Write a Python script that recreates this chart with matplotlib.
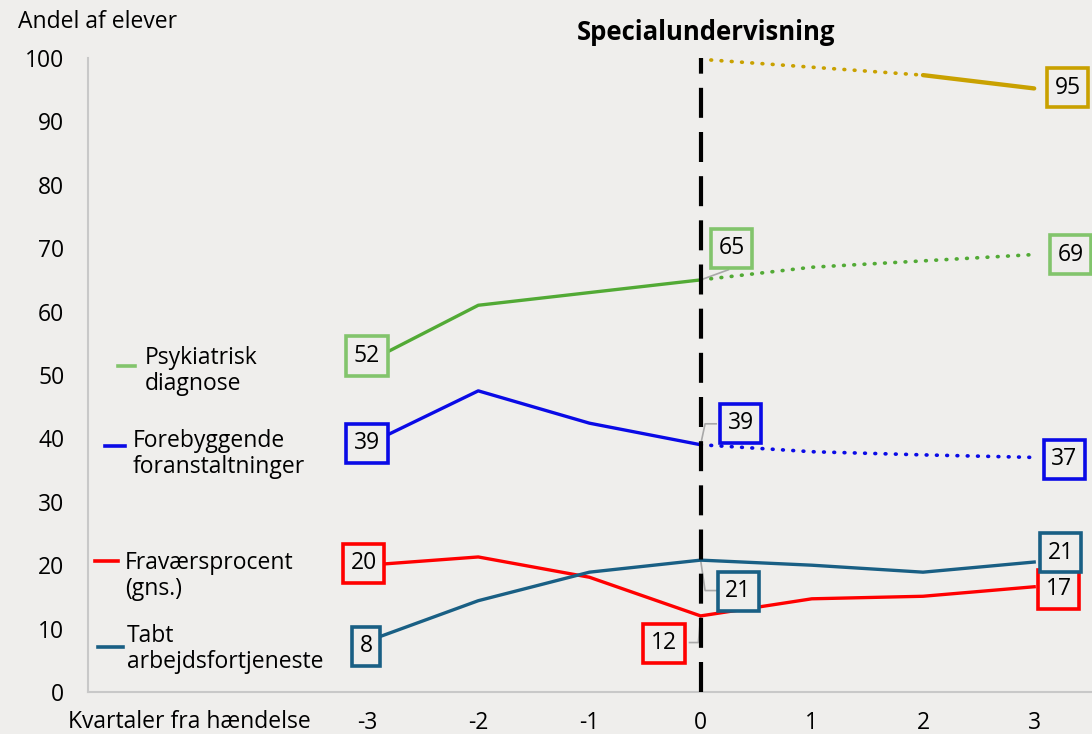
import matplotlib
matplotlib.use("Agg")
import matplotlib.pyplot as plt
from matplotlib.lines import Line2D

plt.rcParams['font.family'] = ['Open Sans', 'DejaVu Sans']

quarters = [-3, -2, -1, 0, 1, 2, 3]
psyk = [52, 61, 63, 65, 67, 68, 69]
forebyg = [39, 47.5, 42.4, 39, 37.9, 37.4, 37]
fravaer = [20, 21.3, 18.1, 12, 14.7, 15.1, 16.6]
tabt = [8, 14.4, 18.9, 20.8, 20.0, 18.9, 20.5]
gul_x = [0, 2, 3]
gul = [99.8, 97.3, 95.2]

c_green, c_green_box = '#52aa35', '#82c46c'
c_blue = '#0a0ae6'
c_red = '#ff0000'
c_teal = '#195f84'
c_yellow = '#c9a100'
bg = '#efeeec'
FS = 16.5

fig = plt.figure(figsize=(10.92, 7.34), dpi=100, facecolor=bg)
ax = fig.add_axes([88/1092, 42/734, 1 - 88/1092, 634/734], facecolor=bg)
ax.set_xlim(-5.51, 3.52)
ax.set_ylim(0, 100)
for s in ['top', 'right']:
    ax.spines[s].set_visible(False)
for s in ['left', 'bottom']:
    ax.spines[s].set_color('#c8c8c8')
    ax.spines[s].set_linewidth(1.5)
ax.set_xticks(quarters)
ax.set_xticklabels([str(q) for q in quarters])
ax.set_yticks(range(0, 101, 10))
ax.tick_params(length=0, labelsize=FS)
ax.tick_params(axis='y', pad=17)
ax.tick_params(axis='x', pad=14)

lw = 2.4
dot = (0, (0.2, 2.6))

def split(xs, ys):
    pre = [(x, y) for x, y in zip(xs, ys) if x <= 0]
    post = [(x, y) for x, y in zip(xs, ys) if x >= 0]
    return list(zip(*pre)), list(zip(*post))

for ys, col in [(psyk, c_green), (forebyg, c_blue)]:
    (px, py), (qx, qy) = split(quarters, ys)
    ax.plot(px, py, color=col, lw=lw, solid_capstyle='butt', zorder=3)
    ax.plot(qx, qy, color=col, lw=lw*1.1, linestyle=dot, dash_capstyle='round', zorder=3)
for ys, col in [(fravaer, c_red), (tabt, c_teal)]:
    ax.plot(quarters, ys, color=col, lw=lw, zorder=3)
ax.plot(gul_x[:2], gul[:2], color=c_yellow, lw=lw*1.1, linestyle=dot, dash_capstyle='round', zorder=3)
ax.plot(gul_x[1:], gul[1:], color=c_yellow, lw=lw*1.3, solid_capstyle='round', zorder=3)

ax.plot([0, 0], [0, 100], color='black', lw=3, linestyle=(0, (7.2, 3.4)), zorder=4)

lead = '#a8a8a8'
ax.plot([0, 0.25], [65, 66.6], color=lead, lw=1.2, zorder=2)
ax.plot([0, 0.04, 0.14], [39, 42.3, 42.3], color=lead, lw=1.2, zorder=2)
ax.plot([0, 0.04, 0.14], [20.8, 16, 16], color=lead, lw=1.2, zorder=2)
ax.plot([0, -0.02, -0.1], [12, 7.8, 7.8], color=lead, lw=1.2, zorder=2)

def box(x, y, txt, col):
    ax.text(x, y, txt, ha='center', va='center', fontsize=FS, color='black', zorder=6,
            bbox=dict(boxstyle='square,pad=0.33', fc=bg, ec=col, lw=2.6))

box(-3.0, 53.0, '52', c_green_box)
box(0.28, 70.0, '65', c_green_box)
box(3.33, 69.0, '69', c_green_box)
box(-3.0, 39.2, '39', c_blue)
box(0.36, 42.4, '39', c_blue)
box(3.27, 36.7, '37', c_blue)
box(-3.03, 20.3, '20', c_red)
box(-0.33, 7.7, '12', c_red)
box(3.22, 16.2, '17', c_red)
box(-3.01, 7.2, '8', c_teal)
box(0.34, 15.9, '21', c_teal)
box(3.24, 22.0, '21', c_teal)
box(3.30, 95.3, '95', c_yellow)

def fx(px):
    return px / 1092
def fy(py):
    return 1 - py / 734

leg = [
    (118, 135, 366, 145, 'Psykiatrisk\ndiagnose', c_green_box, 371),
    (105, 125, 446, 133, 'Forebyggende\nforanstaltninger', c_blue, 454),
    (95, 118, 561, 125, 'Fraværsprocent\n(gns.)', c_red, 576),
    (98, 123, 647, 127, 'Tabt\narbejdsfortjeneste', c_teal, 649),
]
for x0, x1, ly, tx, txt, col, ty in leg:
    fig.add_artist(Line2D([fx(x0), fx(x1)], [fy(ly), fy(ly)], color=col, lw=2.6))
    fig.text(fx(tx), fy(ty), txt, ha='left', va='center', fontsize=FS, linespacing=1.15)

fig.text(fx(18), fy(22), 'Andel af elever', ha='left', va='center', fontsize=FS)
fig.text(fx(68), fy(722), 'Kvartaler fra hændelse', ha='left', va='center', fontsize=FS)
fig.text(fx(706), fy(32), 'Specialundervisning', ha='center', va='center', fontsize=18.5, fontweight='bold')

fig.savefig('out.png', dpi=100, facecolor=bg)
